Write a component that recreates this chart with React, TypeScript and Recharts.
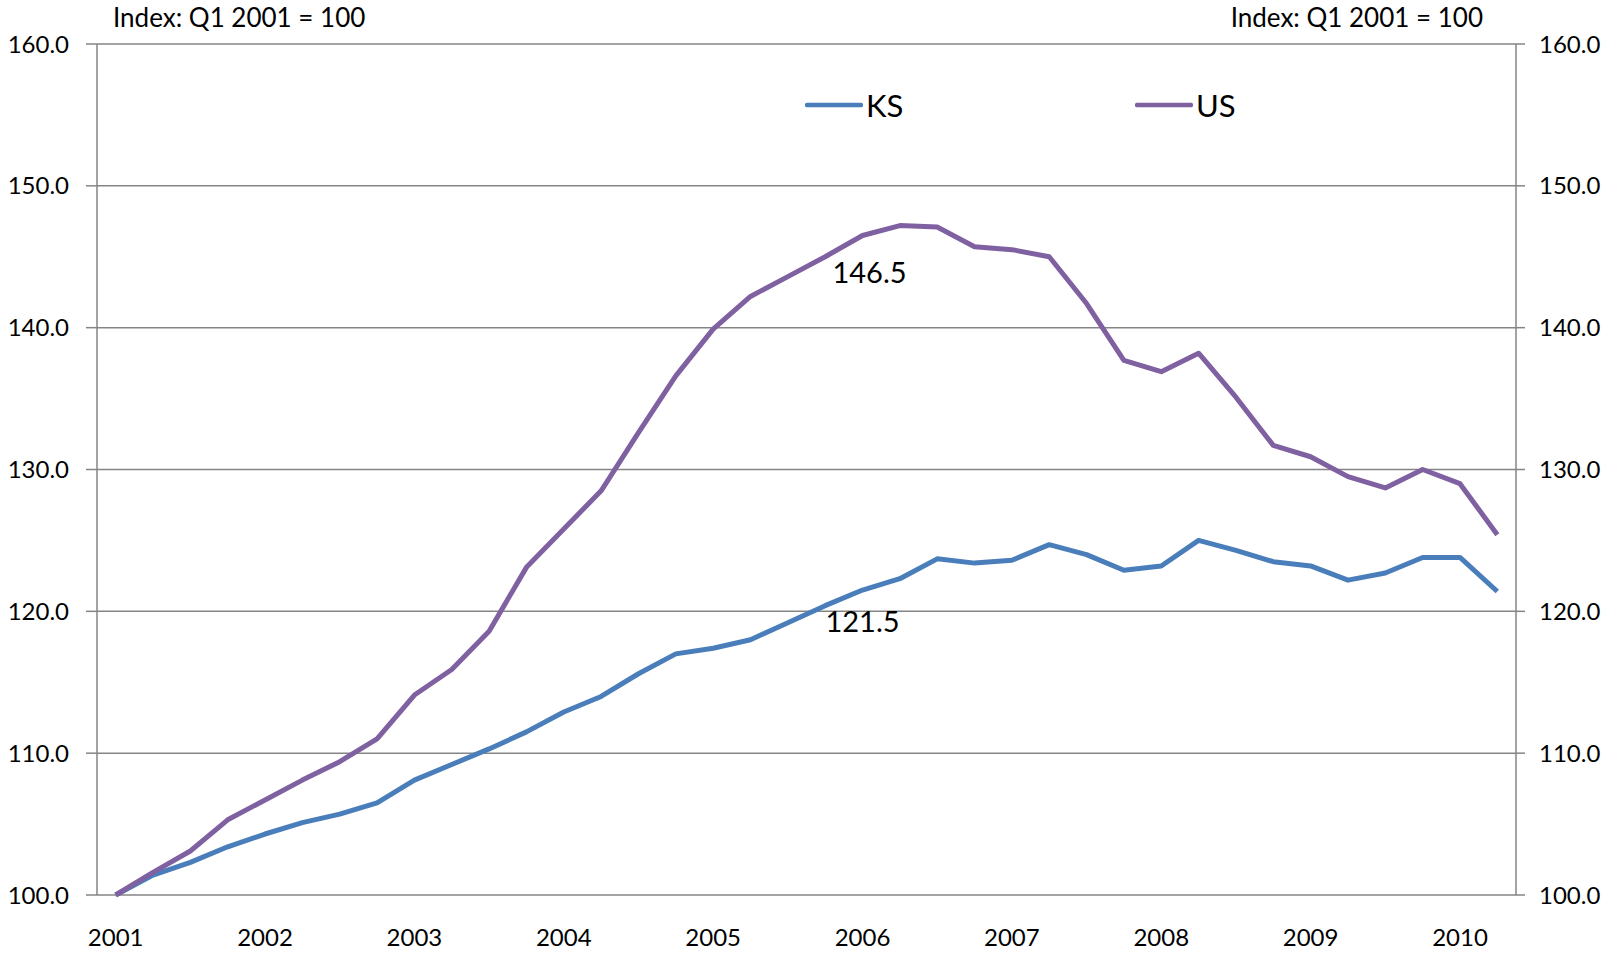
import { LineChart, Line, XAxis, YAxis, CartesianGrid, Legend, LabelList } from 'recharts'

// quarterly house price index, Q1 2001 = 100
const quarters = [
  '2001 Q1', '2001 Q2', '2001 Q3', '2001 Q4',
  '2002 Q1', '2002 Q2', '2002 Q3', '2002 Q4',
  '2003 Q1', '2003 Q2', '2003 Q3', '2003 Q4',
  '2004 Q1', '2004 Q2', '2004 Q3', '2004 Q4',
  '2005 Q1', '2005 Q2', '2005 Q3', '2005 Q4',
  '2006 Q1', '2006 Q2', '2006 Q3', '2006 Q4',
  '2007 Q1', '2007 Q2', '2007 Q3', '2007 Q4',
  '2008 Q1', '2008 Q2', '2008 Q3', '2008 Q4',
  '2009 Q1', '2009 Q2', '2009 Q3', '2009 Q4',
  '2010 Q1', '2010 Q2',
]

const ksIndex = [
  100.0, 101.4, 102.3, 103.4, 104.3, 105.1, 105.7, 106.5,
  108.1, 109.2, 110.3, 111.5, 112.9, 114.0, 115.6, 117.0,
  117.4, 118.0, 119.2, 120.4, 121.5, 122.3, 123.7, 123.4,
  123.6, 124.7, 124.0, 122.9, 123.2, 125.0, 124.3, 123.5,
  123.2, 122.2, 122.7, 123.8, 123.8, 121.4,
]

const usIndex = [
  100.0, 101.6, 103.1, 105.3, 106.7, 108.1, 109.4, 111.0,
  114.1, 115.9, 118.6, 123.1, 125.8, 128.5, 132.6, 136.6,
  139.9, 142.2, 143.6, 145.0, 146.5, 147.2, 147.1, 145.7,
  145.5, 145.0, 141.7, 137.7, 136.9, 138.2, 135.1, 131.7,
  130.9, 129.5, 128.7, 130.0, 129.0, 125.4,
]

const yearLabels = ['2001', '2002', '2003', '2004', '2005', '2006', '2007', '2008', '2009', '2010']
const yTicks = [100, 110, 120, 130, 140, 150, 160]
const calloutQuarter = '2006 Q1'
const unitNote = 'Index: Q1 2001 = 100'

const data = quarters.map((q, i) => ({ idx: i, quarter: q, KS: ksIndex[i], US: usIndex[i] }))
const calloutIdx = quarters.indexOf(calloutQuarter)

// tick marks sit between the quarters, year labels on each Q1
const quarterEdges = [...quarters.map((_, i) => i - 0.5), quarters.length - 0.5]
const yearTicks = yearLabels.map(y => quarters.indexOf(y + ' Q1'))
const xDomain = [-0.5, quarters.length - 0.5]

const grey = '#858585'
const font = 'Lato, "Noto Sans", sans-serif'

function callout(dx: number, dy: number) {
  return (p: any) => {
    if (p.index !== calloutIdx) return null
    return (
      <text x={p.x + dx} y={p.y + dy} textAnchor="middle" fontSize={29} fill="#000" fontFamily={font}>
        {Number(p.value).toFixed(1)}
      </text>
    )
  }
}

function LegendBox({ payload }: any) {
  return (
    <div style={{ display: 'flex', fontSize: 31, color: '#000', fontFamily: font }}>
      {(payload || []).map((it: any) => (
        <div key={it.value} style={{ display: 'flex', alignItems: 'center', width: 330 }}>
          <svg width={58} height={10} style={{ marginRight: 3 }}>
            <line x1={2} y1={5} x2={56} y2={5} stroke={it.color} strokeWidth={4.5} strokeLinecap="round" />
          </svg>
          <span>{it.value}</span>
        </div>
      ))}
    </div>
  )
}

export default function App() {
  return (
    <div style={{ position: 'absolute', left: 0, top: 0, width: 1603, height: 953, background: '#fff', fontFamily: font }}>
      <div style={{ position: 'absolute', left: 113, top: 1, fontSize: 26, color: '#000', lineHeight: '32px' }}>{unitNote}</div>
      <div style={{ position: 'absolute', right: 120, top: 1, fontSize: 26, color: '#000', lineHeight: '32px' }}>{unitNote}</div>
      <LineChart width={1603} height={953} data={data} margin={{ top: 44, right: 0, bottom: 0, left: 0 }}>
        <CartesianGrid xAxisId="q" yAxisId="left" vertical={false} stroke={grey} strokeWidth={1.5} />
        <XAxis
          xAxisId="q"
          dataKey="idx"
          type="number"
          domain={xDomain}
          ticks={quarterEdges}
          interval={0}
          height={0}
          tickSize={10}
          tickFormatter={() => ''}
          axisLine={{ stroke: grey, strokeWidth: 1.5 }}
          tickLine={{ stroke: grey, strokeWidth: 1.5 }}
        />
        <XAxis
          xAxisId="yr"
          dataKey="idx"
          type="number"
          domain={xDomain}
          allowDataOverflow
          ticks={yearTicks}
          interval={0}
          height={58}
          tickSize={0}
          tickMargin={34}
          axisLine={false}
          tickLine={false}
          tickFormatter={(v: number) => quarters[v]?.slice(0, 4)}
          tick={{ fontSize: 24, fill: '#000' }}
        />
        <YAxis
          yAxisId="left"
          domain={[100, 160]}
          ticks={yTicks}
          interval={0}
          width={97}
          tickSize={11}
          tickMargin={17}
          tickFormatter={(v: number) => v.toFixed(1)}
          tick={{ fontSize: 24, fill: '#000' }}
          axisLine={{ stroke: grey, strokeWidth: 1.5 }}
          tickLine={{ stroke: grey, strokeWidth: 1.5 }}
        />
        <YAxis
          yAxisId="right"
          orientation="right"
          domain={[100, 160]}
          allowDataOverflow
          ticks={yTicks}
          interval={0}
          width={87}
          tickSize={9}
          tickMargin={14}
          tickFormatter={(v: number) => v.toFixed(1)}
          tick={{ fontSize: 24, fill: '#000' }}
          axisLine={{ stroke: grey, strokeWidth: 1.5 }}
          tickLine={{ stroke: grey, strokeWidth: 1.5 }}
        />
        <Legend
          verticalAlign="middle"
          layout="horizontal"
          content={<LegendBox />}
          wrapperStyle={{ top: 86, left: 805, width: 700 }}
        />
        <Line
          xAxisId="q"
          yAxisId="left"
          dataKey="KS"
          name="KS"
          stroke="#4a7ebb"
          strokeWidth={5}
          dot={false}
          strokeLinejoin="round"
          isAnimationActive={false}
        >
          <LabelList dataKey="KS" content={callout(0, 42)} />
        </Line>
        <Line
          xAxisId="q"
          yAxisId="left"
          dataKey="US"
          name="US"
          stroke="#7f60a0"
          strokeWidth={5}
          dot={false}
          strokeLinejoin="round"
          isAnimationActive={false}
        >
          <LabelList dataKey="US" content={callout(7, 48)} />
        </Line>
      </LineChart>
    </div>
  )
}
